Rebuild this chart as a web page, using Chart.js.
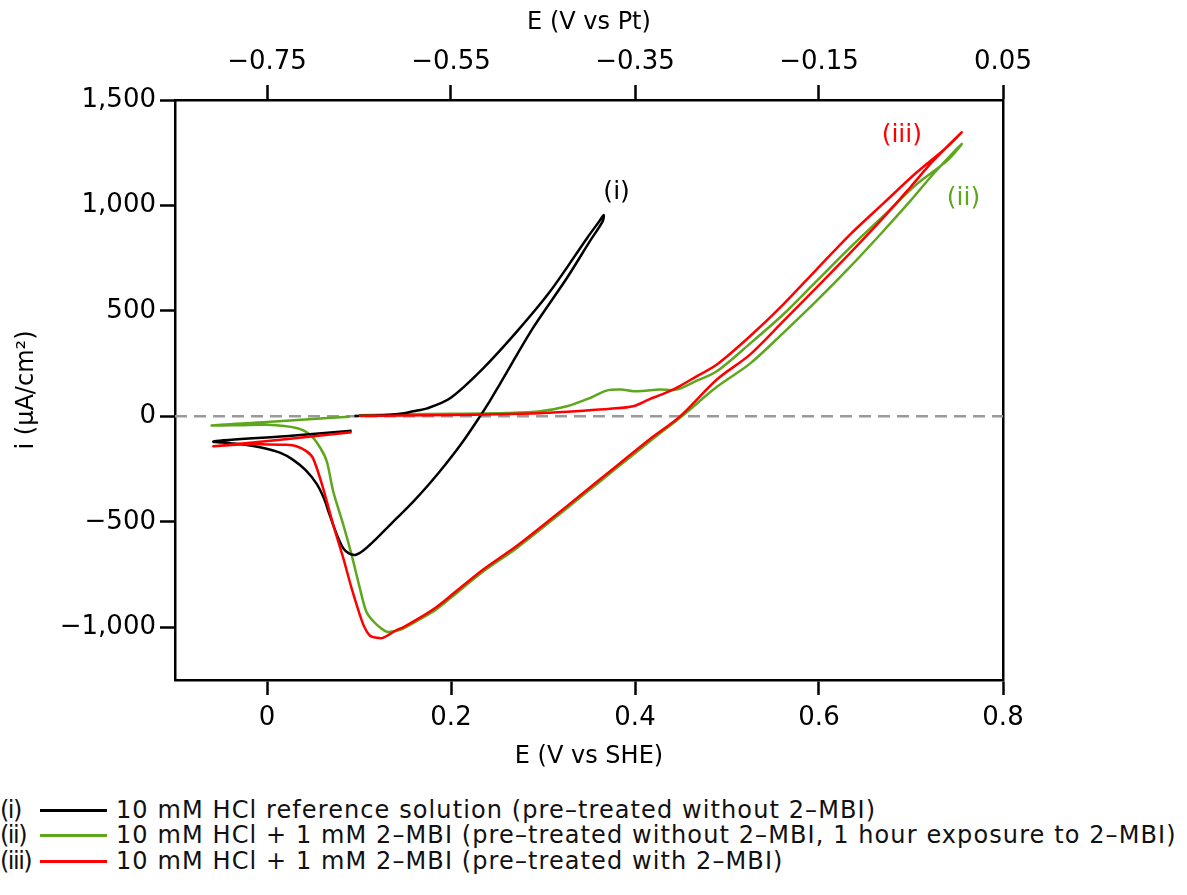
<!DOCTYPE html>
<html>
<head>
<meta charset="utf-8">
<script src="https://cdn.jsdelivr.net/npm/chart.js@4/dist/chart.umd.min.js"></script>
<style>
  body { margin: 0; background: #fff; }
  #wrap { position: relative; width: 1187px; height: 895px; font-family: "DejaVu Sans", sans-serif; }
  #cv { position: absolute; left: 0; top: 0; }
  .row { position: absolute; left: 0; height: 29px; line-height: 29px; font-size: 24px; color: #111; white-space: nowrap; }
  .row .tag { position: absolute; left: 0; top: 0; letter-spacing: -1.5px; }
  .row .sw { position: absolute; left: 40px; top: 13px; width: 67px; height: 3px; }
  .row .txt { position: absolute; left: 116px; top: 0; letter-spacing: 1.1px; }
</style>
</head>
<body>
<div id="wrap">
  <canvas id="cv" width="1187" height="780"></canvas>
  <div id="legend"></div>
</div>
<script>
// --- data (E vs SHE in V, i in µA/cm²) ---
const black_x = [0.092, 0.020, -0.058, -0.040, -0.022, -0.004, 0.014, 0.028, 0.042, 0.054, 0.062, 0.068, 0.076, 0.083, 0.089, 0.096,
  0.105, 0.123, 0.141, 0.159, 0.177, 0.195, 0.213, 0.2315, 0.242, 0.253, 0.289, 0.326, 0.351, 0.365, 0.366,
  0.362, 0.348, 0.308, 0.272, 0.235, 0.199, 0.174, 0.159, 0.145, 0.123, 0.095];
const black_y = [-68, -94, -119, -127, -136, -150, -172, -205, -255, -320, -390, -466, -562, -626, -650, -657,
  -635, -562, -483, -404, -317, -222, -119, 0, 71, 152, 418, 656, 831, 926, 955,
  930, 846, 594, 404, 228, 86, 38, 24, 12, 4, 2];

const green_x = [0.090, 0.050, 0.000, -0.060, -0.030, 0.000, 0.032, 0.047, 0.058, 0.065, 0.072, 0.083, 0.092, 0.101, 0.108, 0.116,
  0.124, 0.130, 0.140, 0.148, 0.165, 0.184, 0.199, 0.235, 0.271, 0.308, 0.344, 0.380, 0.416, 0.453, 0.489, 0.525,
  0.561, 0.597, 0.634, 0.670, 0.700, 0.724, 0.755,
  0.740, 0.706, 0.670, 0.634, 0.597, 0.561, 0.525, 0.489, 0.465, 0.445, 0.427, 0.402, 0.384, 0.369, 0.351, 0.326,
  0.297, 0.261, 0.200, 0.150, 0.100];
const green_y = [-2, -12, -27, -43, -42, -40, -55, -87, -150, -214, -356, -515, -657, -816, -926, -974,
  -1005, -1021, -1018, -1006, -965, -915, -863, -736, -626, -499, -372, -245, -119, 8, 140, 250,
  395, 546, 710, 879, 1025, 1148, 1291,
  1215, 1100, 950, 801, 640, 483, 345, 214, 165, 127, 127, 119, 127, 122, 87, 48,
  24, 16, 12, 10, 5];

const red_x = [0.092, 0.020, -0.058, -0.030, 0.000, 0.021, 0.032, 0.043, 0.050, 0.061, 0.072, 0.083, 0.092, 0.101, 0.106, 0.112,
  0.120, 0.126, 0.141, 0.148, 0.165, 0.184, 0.199, 0.235, 0.271, 0.308, 0.344, 0.380, 0.416, 0.449, 0.489, 0.525,
  0.561, 0.597, 0.634, 0.670, 0.700, 0.724, 0.755,
  0.740, 0.706, 0.670, 0.634, 0.597, 0.561, 0.525, 0.489, 0.465, 0.445, 0.430, 0.416, 0.398, 0.373, 0.344, 0.300,
  0.250, 0.200, 0.150, 0.100];
const red_y = [-75, -108, -142, -133, -133, -135, -142, -166, -198, -341, -515, -673, -816, -942, -1000, -1040,
  -1050, -1050, -1013, -1000, -958, -905, -853, -726, -616, -489, -362, -235, -108, 0, 175, 293,
  450, 609, 775, 942, 1090, 1211, 1346,
  1280, 1156, 1010, 863, 695, 530, 380, 246, 185, 135, 105, 82, 48, 36, 27, 16,
  10, 6, 4, 2];

const bottom_ticks = [0, 0.2, 0.4, 0.6, 0.8];
const top_ticks = [-0.75, -0.55, -0.35, -0.15, 0.05];
const y_ticks = [-1000, -500, 0, 500, 1000, 1500];

const series_tags = ["(i)", "(ii)", "(iii)"];
const series_names = [
  "10 mM HCl reference solution (pre-treated without 2-MBI)",
  "10 mM HCl + 1 mM 2-MBI (pre-treated without 2-MBI, 1 hour exposure to 2-MBI)",
  "10 mM HCl + 1 mM 2-MBI (pre-treated with 2-MBI)"
];
const series_colours = ["#000000", "#5ea71c", "#ff0000"];

// where the (i)/(ii)/(iii) tags sit, in data units
const tag_x = [0.380, 0.757, 0.690];
const tag_y = [1060, 1035, 1330];

const pts = (xs, ys) => xs.map((x, i) => ({ x: x, y: ys[i] }));
const minus = (s) => String(s).replace("-", "\u2212");

const FONT = "DejaVu Sans";

const tagPlugin = {
  id: "tags",
  afterDatasetsDraw(chart) {
    const { ctx } = chart;
    const sx = chart.scales.x, sy = chart.scales.y;
    ctx.save();
    ctx.font = "25px '" + FONT + "'";
    ctx.textAlign = "center";
    ctx.textBaseline = "middle";
    for (let i = 0; i < series_tags.length; i++) {
      ctx.fillStyle = series_colours[i];
      ctx.fillText(series_tags[i], sx.getPixelForValue(tag_x[i]), sy.getPixelForValue(tag_y[i]));
    }
    ctx.restore();
  }
};

const tickStyle = { color: "#000", drawOnChartArea: false, drawTicks: true, tickLength: 15, tickWidth: 2.5, tickColor: "#000" };
const borderStyle = { display: true, color: "#000", width: 2.5 };
const tickFont = { family: FONT, size: 26 };
const titleFont = { family: FONT, size: 24 };

new Chart(document.getElementById("cv"), {
  type: "line",
  data: {
    datasets: [
      { label: "zero", data: [{ x: -0.1, y: 0 }, { x: 0.8, y: 0 }], borderColor: "#9a9a9a", borderWidth: 2.5, borderDash: [12, 7], tension: 0, order: 4 },
      { label: series_tags[0], data: pts(black_x, black_y), borderColor: series_colours[0], borderWidth: 2.5, order: 2 },
      { label: series_tags[1], data: pts(green_x, green_y), borderColor: series_colours[1], borderWidth: 2.5, order: 3 },
      { label: series_tags[2], data: pts(red_x, red_y), borderColor: series_colours[2], borderWidth: 2.5, order: 1 }
    ]
  },
  options: {
    responsive: false,
    animation: false,
    devicePixelRatio: 1,
    layout: { padding: 0 },
    elements: { point: { radius: 0 }, line: { tension: 0.3, fill: false } },
    plugins: { legend: { display: false }, tooltip: { enabled: false } },
    scales: {
      x: {
        type: "linear", position: "bottom", min: -0.1, max: 0.8,
        afterBuildTicks: (s) => { s.ticks = bottom_ticks.map(v => ({ value: v })); },
        afterFit: (s) => { s.height = 100; },
        ticks: { color: "#000", font: tickFont, padding: 8, maxRotation: 0,
          callback: (v) => v === 0 ? "0" : v.toFixed(1) },
        grid: tickStyle, border: borderStyle,
        title: { display: true, text: "E (V vs SHE)", color: "#000", font: titleFont, padding: { top: 0, bottom: 9 } }
      },
      x2: {
        type: "linear", position: "top", min: -0.85, max: 0.05,
        afterBuildTicks: (s) => { s.ticks = top_ticks.map(v => ({ value: v })); },
        afterFit: (s) => { s.height = 100; },
        ticks: { color: "#000", font: tickFont, padding: 7, maxRotation: 0,
          callback: (v) => minus(v.toFixed(2)) },
        grid: tickStyle, border: borderStyle,
        title: { display: true, text: "E (V vs Pt)", color: "#000", font: titleFont, padding: { top: 8, bottom: 0 } }
      },
      y: {
        type: "linear", position: "left", min: -1250, max: 1500,
        afterBuildTicks: (s) => { s.ticks = y_ticks.map(v => ({ value: v })); },
        afterFit: (s) => { s.width = 175; },
        ticks: { color: "#000", font: tickFont, padding: 4,
          callback: (v) => minus(v.toLocaleString("en")) },
        grid: tickStyle, border: borderStyle,
        title: { display: true, text: "i (\u00b5A/cm\u00b2)", color: "#000", font: titleFont, padding: { top: 12, bottom: 0 } }
      },
      y2: {
        type: "linear", position: "right", min: -1250, max: 1500,
        afterFit: (s) => { s.width = 184; },
        ticks: { display: false },
        grid: { display: false, drawOnChartArea: false },
        border: borderStyle
      }
    }
  },
  plugins: [tagPlugin]
});

// legend under the plot
const legend = document.getElementById("legend");
const row_top = [796, 821, 847];
for (let i = 0; i < series_tags.length; i++) {
  const row = document.createElement("div");
  row.className = "row";
  row.style.top = row_top[i] + "px";
  row.innerHTML = '<span class="tag"></span><span class="sw"></span><span class="txt"></span>';
  row.querySelector(".tag").textContent = series_tags[i];
  row.querySelector(".sw").style.background = series_colours[i];
  row.querySelector(".txt").textContent = series_names[i].replace(/-/g, "\u2013");
  legend.appendChild(row);
}
</script>
</body>
</html>
